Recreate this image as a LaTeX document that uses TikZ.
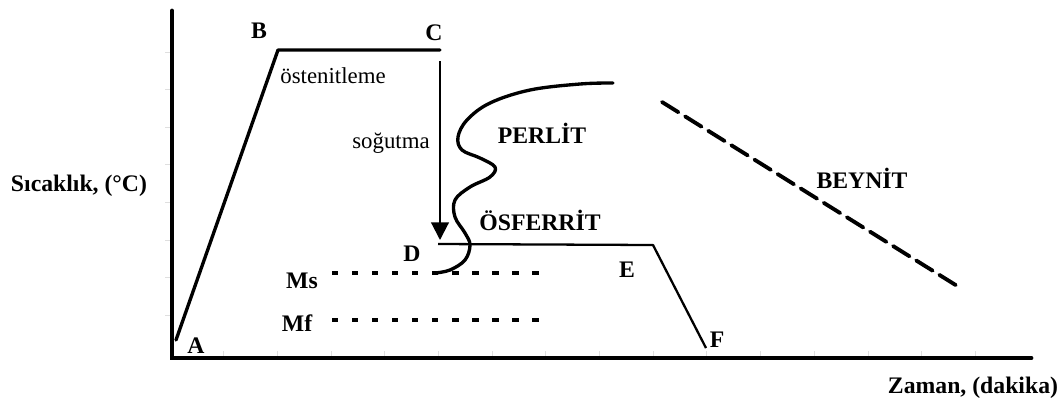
\documentclass[tikz,border=0pt]{standalone}
\usepackage{fontspec}
\setmainfont{Liberation Serif}
\usetikzlibrary{arrows.meta, positioning}

\begin{document}
\begin{tikzpicture}[x=0.02cm, y=-0.02cm,
    lbl/.style={font=\fontsize{13.5}{15}\selectfont\bfseries, inner sep=0pt},
    txt/.style={font=\fontsize{13}{15}\selectfont, inner sep=0pt},
    curve/.style={line width=1.9pt, line join=round, line cap=round},
    mline/.style={line width=1.9pt, dash pattern=on 3.6pt off 7.8pt}]
\useasboundingbox (0,0) rectangle (1062,407);

% axes
\coordinate (O) at (172,358);
\coordinate (ytop) at (172,11);
\coordinate (xend) at (1031,358);
\foreach \i in {0,...,14}
  \draw[gray!25, thin] ({223.5+53.7*\i},356) -- ++(0,-5);
\foreach \i in {0,...,7}
  \draw[gray!25, thin] (170,{52+37.6*\i}) -- ++(-5,0);
\draw[line width=2.8pt, line cap=round] (ytop) -- (O) -- (xend);
\node[lbl] (ylab) at (79,186) {Sıcaklık, (°C)};
\node[lbl] (xlab) at (973,388) {Zaman, (dakika)};

% heat treatment path
\coordinate (A) at (176,340);
\coordinate (B) at (278,50);
\coordinate (C) at (440,50);
\coordinate (Ctop) at (440,61);
\coordinate (Dtop) at (440,240);
\coordinate (D) at (438,244);
\coordinate (E) at (653,245);
\coordinate (F) at (706,348);
\draw[curve] (A) -- (B) -- (C);
\draw[line width=1.2pt, -{Triangle[length=10pt, width=10pt]}] (Ctop) -- (Dtop);
\draw[line width=1.3pt, line join=round] (D) -- (E) -- (F);

\node[lbl] (lA) at (196,346) {A};
\node[lbl] (lB) at (259,31) {B};
\node[lbl] (lC) at (434,33) {C};
\node[lbl] (lD) at (412,254) {D};
\node[lbl] (lE) at (627,270) {E};
\node[lbl] (lF) at (717,340) {F};
\node[txt] (ost) at (333,76) {östenitleme};
\node[txt] (sog) at (391,143) {soğutma};

% Ms / Mf
\coordinate (Ms0) at (332,273);
\coordinate (Ms1) at (540,273);
\coordinate (Mf0) at (332,320);
\coordinate (Mf1) at (540,320);
\draw[mline] (Ms0) -- (Ms1);
\draw[mline] (Mf0) -- (Mf1);
\node[lbl] (lMs) at (302,281) {Ms};
\node[lbl] (lMf) at (297,323) {Mf};

% perlite nose
\draw[curve] plot[smooth, tension=0.6] coordinates {
  (613,83) (580,84) (530,90) (490,103) (467,120) (458,137) (462,150)
  (480,158) (495,167) (490,177) (470,187) (455,200) (455,217)
  (465,233) (470,245) (465,260) (450,270) (435,273)};
\node[lbl] (perlit) at (542,133) {PERLİT};
\node[lbl] (osf) at (540,220) {ÖSFERRİT};

% bainite line
\coordinate (Bn0) at (662,102);
\coordinate (Bn1) at (962,289);
\draw[line width=2.2pt, dash pattern=on 11pt off 4.5pt, line cap=round] (Bn0) -- (Bn1);
\node[lbl] (beynit) at (862,178) {BEYNİT};
\end{tikzpicture}
\end{document}
